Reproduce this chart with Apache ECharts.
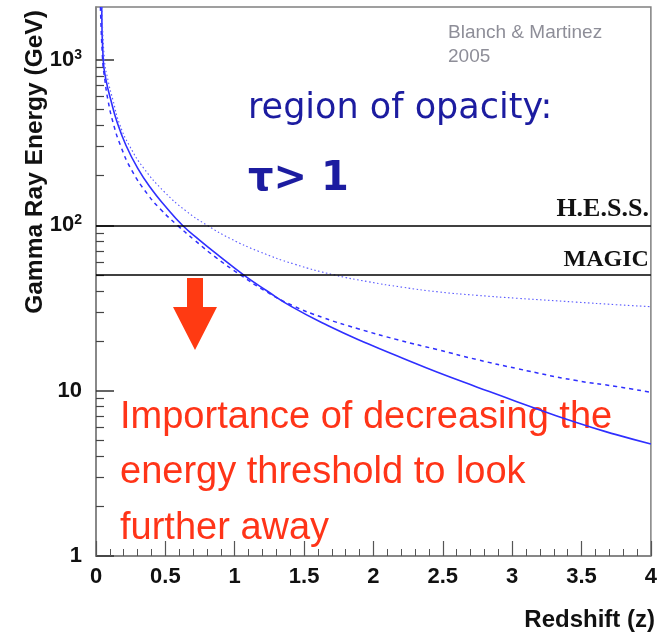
<!DOCTYPE html>
<html>
<head>
<meta charset="utf-8">
<script src="https://cdn.jsdelivr.net/npm/echarts@6/dist/echarts.min.js"></script>
<style>
  html, body { margin: 0; padding: 0; background: #ffffff; }
  #chart { width: 660px; height: 632px; }
</style>
</head>
<body>
<div id="chart"></div>
<script>
// Horizon energy versus redshift for three EBL models
const solidZ = [0.041, 0.052, 0.072, 0.107, 0.150, 0.215, 0.301, 0.401, 0.501, 0.623, 0.744, 0.887,
                1.066, 1.231, 1.410, 1.674, 1.961, 2.211, 2.462, 2.748, 3.034, 3.463, 3.750, 4.0];
const solidE = [2090, 1000, 757, 573, 426, 306, 221, 165, 130, 100, 81.7, 65.4,
                50, 40.2, 32.2, 24.7, 19.2, 15.7, 12.9, 10.5, 8.58, 6.41, 5.42, 4.76];

const dashedZ = [0.032, 0.048, 0.064, 0.086, 0.122, 0.177, 0.258, 0.372, 0.465, 0.587, 0.716, 0.866,
                 1.043, 1.217, 1.417, 1.639, 1.889, 2.175, 2.461, 2.748, 3.034, 3.463, 3.750, 4.0];
const dashedE = [2090, 1000, 757, 573, 421, 303, 215, 154, 125, 100, 80.6, 63.7,
                 50, 40.2, 32.7, 27.6, 23.7, 20.3, 17.7, 15.4, 13.6, 11.5, 10.6, 9.77];

const dottedZ = [0.043, 0.061, 0.086, 0.122, 0.172, 0.243, 0.343, 0.494, 0.644, 0.801, 0.973, 1.174,
                 1.431, 1.722, 1.961, 2.211, 2.462, 2.748, 3.034, 3.463, 3.750, 4.0];
const dottedE = [2090, 1000, 757, 573, 405, 301, 222, 159, 123, 100, 82.8, 69.5,
                 58.2, 50, 45.6, 42.2, 39.6, 37.7, 36.2, 34.3, 33.1, 32.2];

// Telescope energy thresholds (GeV)
const thresholds = [
  { name: 'H.E.S.S.', value: 100 },
  { name: 'MAGIC', value: 50 }
];

const yMajorTicks = [1, 10, 100, 1000];
const yMinorTicks = [2, 3, 4, 5, 6, 7, 8, 9, 20, 30, 40, 50, 60, 70, 80, 90,
                     200, 300, 400, 500, 600, 700, 800, 900];
const yRange = [1, 2090];
const xRange = [0, 4];

const zip = (xs, ys) => xs.map((x, i) => [x, ys[i]]);

const blue = '#2f2fff';
const axisGrey = '#808080';
const labelFont = 'Liberation Sans, Arial, Helvetica, sans-serif';
const serifFont = 'Liberation Serif, Times New Roman, serif';

function yLabel(v) {
  if (v === 100) return '{b|10}{s|2}';
  if (v === 1000) return '{b|10}{s|3}';
  return '{b|' + v + '}';
}

const chart = echarts.init(document.getElementById('chart'), null, { renderer: 'canvas' });

chart.setOption({
  animation: false,
  backgroundColor: '#ffffff',
  grid: {
    left: 96, top: 7, right: 4, bottom: 76,
    show: true, borderColor: axisGrey, borderWidth: 1.5, backgroundColor: 'transparent'
  },
  xAxis: {
    type: 'value',
    min: xRange[0], max: xRange[1], interval: 0.5,
    axisLine: { show: true, lineStyle: { color: axisGrey, width: 1.5 } },
    axisTick: { show: true, inside: true, length: 15, lineStyle: { color: '#555', width: 1.2 } },
    minorTick: { show: true, splitNumber: 5, length: 7, lineStyle: { color: '#555', width: 1 } },
    splitLine: { show: false },
    axisLabel: {
      margin: 10, color: '#111', fontFamily: labelFont, fontWeight: 'bold', fontSize: 22,
      formatter: v => String(v)
    }
  },
  yAxis: [
    {
      type: 'log', logBase: 10,
      min: yRange[0], max: yRange[1],
      axisLine: { show: true, lineStyle: { color: axisGrey, width: 1.5 } },
      axisTick: { show: true, inside: true, length: 18, customValues: yMajorTicks,
                  lineStyle: { color: '#333', width: 1.5 } },
      splitLine: { show: false },
      minorTick: { show: false },
      axisLabel: {
        margin: 14, customValues: yMajorTicks, formatter: yLabel,
        rich: {
          b: { fontFamily: labelFont, fontWeight: 'bold', fontSize: 22, color: '#111', lineHeight: 24 },
          s: { fontFamily: labelFont, fontWeight: 'bold', fontSize: 14, color: '#111',
               verticalAlign: 'top', lineHeight: 24, padding: [0, 0, 12, 0] }
        }
      }
    },
    {
      type: 'log', logBase: 10,
      min: yRange[0], max: yRange[1],
      position: 'left', offset: 0,
      axisLine: { show: false },
      axisTick: { show: true, inside: true, length: 8, customValues: yMinorTicks,
                  lineStyle: { color: '#444', width: 1.2 } },
      axisLabel: { show: false },
      splitLine: { show: false }
    }
  ],
  series: [
    {
      name: 'solid', type: 'line', data: zip(solidZ, solidE),
      smooth: 0.5, showSymbol: false, clip: true,
      lineStyle: { color: blue, width: 1.6, type: 'solid' },
      markLine: {
        silent: true, symbol: 'none',
        lineStyle: { color: '#000', width: 1.6, type: 'solid' },
        label: {
          show: true, position: 'insideEndTop', distance: [2, 3],
          formatter: p => p.name,
          fontFamily: serifFont, fontWeight: 'bold', fontSize: 24, color: '#111'
        },
        data: thresholds.map(t => ({
          name: t.name, yAxis: t.value,
          label: { fontSize: t.name === 'H.E.S.S.' ? 26 : 24 }
        }))
      }
    },
    {
      name: 'dashed', type: 'line', data: zip(dashedZ, dashedE),
      smooth: 0.5, showSymbol: false, clip: true,
      lineStyle: { color: blue, width: 1.5, type: [4, 4] }
    },
    {
      name: 'dotted', type: 'line', data: zip(dottedZ, dottedE),
      smooth: 0.5, showSymbol: false, clip: true,
      lineStyle: { color: '#5a5aff', width: 1.1, type: [1.5, 2.5] }
    }
  ],
  graphic: [
    {
      type: 'text', x: 35, y: 162, rotation: Math.PI / 2,
      style: {
        text: 'Gamma Ray Energy (GeV)', fill: '#111',
        font: 'bold 24.5px ' + labelFont, align: 'center', verticalAlign: 'middle'
      }
    },
    {
      type: 'text', x: 655, y: 620,
      style: {
        text: 'Redshift (z)', fill: '#111',
        font: 'bold 24px ' + labelFont, align: 'right', verticalAlign: 'middle'
      }
    },
    {
      type: 'text', x: 448, y: 33,
      style: { text: 'Blanch & Martinez', fill: '#8e8e98', font: '19px ' + labelFont,
               align: 'left', verticalAlign: 'middle' }
    },
    {
      type: 'text', x: 448, y: 57,
      style: { text: '2005', fill: '#8e8e98', font: '19px ' + labelFont,
               align: 'left', verticalAlign: 'middle' }
    },
    {
      type: 'text', x: 248, y: 109,
      style: { text: 'region of opacity:', fill: '#1c1ca0',
               font: '35px "DejaVu Sans", sans-serif', align: 'left', verticalAlign: 'middle' }
    },
    {
      type: 'text', x: 248, y: 180,
      style: { text: 'τ> 1', fill: '#1c1ca0',
               font: 'bold 40px "DejaVu Sans", sans-serif', align: 'left', verticalAlign: 'middle' }
    },
    {
      type: 'polygon',
      shape: { points: [[187, 278], [203, 278], [203, 307], [217, 307], [195, 350], [173, 307], [187, 307]] },
      style: { fill: '#ff3a12' }
    },
    {
      type: 'text', x: 120, y: 418,
      style: { text: 'Importance of decreasing the', fill: '#ff3418',
               font: '38px ' + labelFont, align: 'left', verticalAlign: 'middle' }
    },
    {
      type: 'text', x: 120, y: 473,
      style: { text: 'energy threshold to look', fill: '#ff3418',
               font: '38px ' + labelFont, align: 'left', verticalAlign: 'middle' }
    },
    {
      type: 'text', x: 120, y: 529,
      style: { text: 'further away', fill: '#ff3418',
               font: '38px ' + labelFont, align: 'left', verticalAlign: 'middle' }
    }
  ]
});
</script>
</body>
</html>
